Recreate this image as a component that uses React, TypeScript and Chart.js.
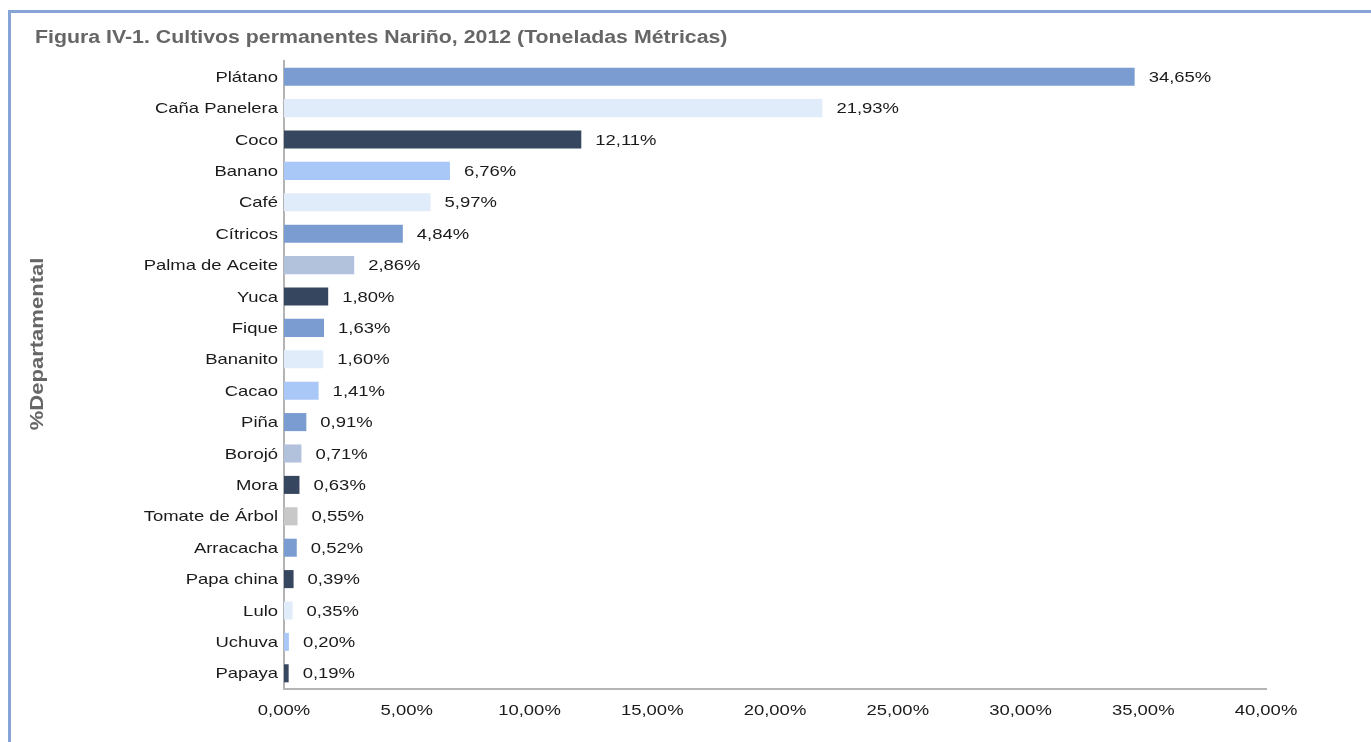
import React, { useEffect, useRef } from "react";
import { Chart, registerables } from "chart.js";

Chart.register(...registerables);

const categories = [
  "Plátano", "Caña Panelera", "Coco", "Banano", "Café", "Cítricos", "Palma de Aceite",
  "Yuca", "Fique", "Bananito", "Cacao", "Piña", "Borojó", "Mora", "Tomate de Árbol",
  "Arracacha", "Papa china", "Lulo", "Uchuva", "Papaya",
];
const values = [
  34.65, 21.93, 12.11, 6.76, 5.97, 4.84, 2.86, 1.8, 1.63, 1.6, 1.41, 0.91, 0.71, 0.63,
  0.55, 0.52, 0.39, 0.35, 0.2, 0.19,
];
const barColors = [
  "#7b9cd1", "#e1ecfb", "#37465f", "#aac8f7", "#e1ecfb", "#7b9cd1", "#b2c1dc",
  "#37465f", "#7b9cd1", "#e1ecfb", "#aac8f7", "#7b9cd1", "#b2c1dc", "#37465f",
  "#c8c8c8", "#7b9cd1", "#37465f", "#e1ecfb", "#aac8f7", "#37465f",
];
const xTickMin = 0;
const xTickMax = 40;
const xTickStep = 5;
const titleText = "Figura IV-1. Cultivos permanentes Nariño, 2012 (Toneladas Métricas)";
const yTitleText = "%Departamental";

const FONT = "'Liberation Sans', Arial, Helvetica, sans-serif";
const STRETCH = 1.23;
const fmt = (v: number, d: number) => v.toFixed(d).replace(".", ",") + "%";

function stretchText(ctx: any, text: string, x: number, y: number, align: string, sx: number) {
  ctx.save();
  ctx.translate(x, y);
  ctx.scale(sx, 1);
  ctx.textAlign = align;
  ctx.fillText(text, 0, 0);
  ctx.restore();
}

export default function App() {
  const ref = useRef<HTMLCanvasElement | null>(null);

  useEffect(() => {
    document.body.style.margin = "0";
    const canvas = ref.current;
    if (!canvas) return;

    const textPlugin = {
      id: "customText",
      afterDatasetsDraw(chart: any) {
        const ctx = chart.ctx;
        const meta = chart.getDatasetMeta(0);
        const xs = chart.scales.x;
        const ys = chart.scales.y;
        ctx.save();
        ctx.font = `15px ${FONT}`;
        ctx.fillStyle = "#1a1a1a";
        ctx.textBaseline = "middle";
        // value labels
        meta.data.forEach((bar: any, i: number) => {
          stretchText(ctx, fmt(values[i], 2), bar.x + 14, bar.y + 1, "left", STRETCH);
        });
        // category labels
        categories.forEach((c, i) => {
          stretchText(ctx, c, xs.left - 6, ys.getPixelForValue(i) + 1, "right", STRETCH);
        });
        // x tick labels
        xs.ticks.forEach((t: any) => {
          stretchText(ctx, fmt(Number(t.value), 2), xs.getPixelForValue(t.value), xs.top + 22, "center", STRETCH);
        });
        ctx.restore();
      },
      afterDraw(chart: any) {
        const ctx = chart.ctx;
        ctx.save();
        ctx.fillStyle = "#666666";
        ctx.font = `bold 18px ${FONT}`;
        ctx.textBaseline = "middle";
        stretchText(ctx, titleText, 35, 38, "left", 1.184);
        ctx.translate(38, 344);
        ctx.rotate(-Math.PI / 2);
        ctx.font = `bold 19px ${FONT}`;
        stretchText(ctx, yTitleText, 0, 0, "center", 1.16);
        ctx.restore();
      },
    };

    const chart = new Chart(canvas, {
      type: "bar",
      data: {
        labels: categories,
        datasets: [
          {
            data: values,
            backgroundColor: barColors,
            borderWidth: 0,
            barPercentage: 1,
            categoryPercentage: 0.575,
          },
        ],
      },
      options: {
        indexAxis: "y",
        animation: false,
        responsive: false,
        maintainAspectRatio: false,
        layout: { padding: { top: 61, right: 105, bottom: 0, left: 0 } },
        plugins: {
          legend: { display: false },
          tooltip: { enabled: false },
          title: { display: false },
        },
        scales: {
          x: {
            min: xTickMin,
            max: xTickMax,
            grid: { display: false, drawTicks: false },
            border: { display: true, color: "#b4b4b4", width: 2 },
            ticks: {
              stepSize: xTickStep,
              display: false,
            },
            afterFit: (scale: any) => {
              scale.height = 53;
            },
          },
          y: {
            grid: { display: false, drawTicks: false },
            border: { display: true, color: "#b4b4b4", width: 2 },
            ticks: { display: false, autoSkip: false },
            afterFit: (scale: any) => {
              scale.width = 284;
            },
          },
        },
      },
      plugins: [textPlugin],
    });
    return () => chart.destroy();
  }, []);

  return (
    <div style={{ position: "relative", width: 1371, height: 742, overflow: "hidden", background: "#fff" }}>
      <div
        style={{
          position: "absolute",
          left: 8,
          top: 10,
          right: 0,
          bottom: 0,
          borderTop: "3px solid #86a4d6",
          borderLeft: "3px solid #86a4d6",
        }}
      />
      <canvas ref={ref} width={1371} height={742} style={{ position: "absolute", left: 0, top: 0 }} />
    </div>
  );
}
